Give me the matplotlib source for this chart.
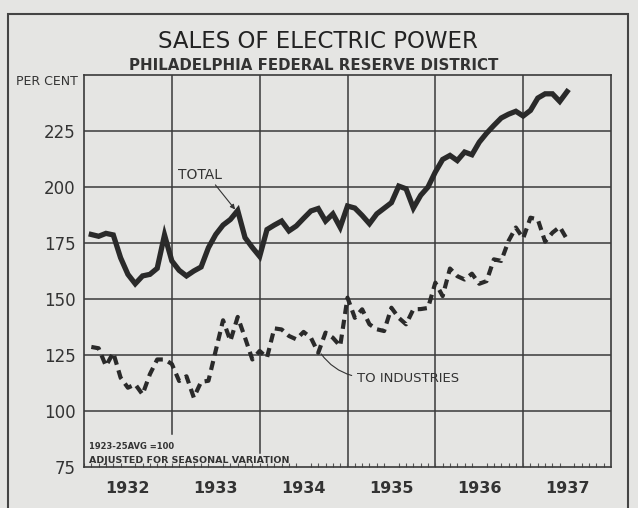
import numpy as np
import matplotlib
matplotlib.use('Agg')
import matplotlib.pyplot as plt
from matplotlib.patches import Rectangle

# Monthly index numbers, Jan 1932 - Jun 1937 (1923-25 avg = 100)
total = [178.8, 178.0, 179.3, 178.6, 168.4, 161.0, 156.8, 160.3, 161.0, 163.7, 178.6, 167.0,
         162.8, 160.3, 162.5, 164.3, 172.9, 178.8, 183.0, 185.5, 189.5, 177.4, 173.0, 169.0,
         181.0, 183.0, 184.8, 180.4, 182.6, 186.0, 189.3, 190.4, 184.8, 188.0, 182.0, 191.5,
         190.6, 187.3, 183.6, 188.0, 190.5, 193.0, 200.4, 199.2, 190.6, 196.3, 200.0, 206.7,
         212.3, 214.1, 211.8, 215.6, 214.4, 220.0, 224.0, 227.5, 230.8, 232.5, 233.8, 231.7,
         234.2, 239.7, 241.6, 241.6, 238.2, 242.6]
industries = [128.6, 128.0, 120.1, 126.0, 114.9, 110.4, 111.9, 107.4, 116.4, 123.0, 123.0, 121.0,
              113.4, 115.5, 106.0, 113.0, 113.5, 127.0, 140.5, 131.3, 142.0, 132.7, 123.0, 126.8,
              123.8, 136.9, 136.4, 133.5, 132.0, 135.3, 132.7, 126.0, 135.0, 132.7, 129.0, 150.6,
              141.6, 145.4, 138.7, 136.5, 135.7, 146.1, 141.6, 138.7, 145.4, 145.5, 146.0, 157.3,
              151.3, 163.6, 160.2, 158.7, 161.3, 156.8, 158.0, 167.7, 167.0, 175.9, 181.9, 177.1,
              186.3, 185.5, 175.6, 179.6, 182.2, 176.6]
years = [1932, 1933, 1934, 1935, 1936, 1937]
y_ticks = [75, 100, 125, 150, 175, 200, 225]

x = 1932 + (np.arange(len(total)) + 1) / 12.0

paper = '#e5e5e3'
ink = '#2a2a2a'

fig = plt.figure(figsize=(6.38, 5.08), dpi=100, facecolor=paper)
ax = fig.add_axes([84/638, 1-467/508, (611-84)/638, (467-75)/508])
ax.set_facecolor(paper)

# outer frame
fig.patches.append(Rectangle((8/638, -0.02), (628-8)/638, 1-14/508+0.02,
                             transform=fig.transFigure, fill=False, lw=1.5, ec='#444444'))

ax.set_xlim(1932, 1938)
ax.set_ylim(75, 250)

# grid
for v in y_ticks[1:]:
    ax.axhline(v, color='#3a3a3a', lw=1.1, zorder=1)
vline_bottoms = {1933: 0.085, 1934: 0.035, 1935: 0, 1936: 0, 1937: 0}
for yr, b in vline_bottoms.items():
    ax.axvline(yr, ymin=b, color='#3a3a3a', lw=1.1, zorder=1)

for s in ax.spines.values():
    s.set_color('#3a3a3a')
    s.set_linewidth(1.2)

ax.plot(x, total, color=ink, lw=3.8, solid_joinstyle='miter', zorder=3)
ax.plot(x, industries, color=ink, lw=3.0, dashes=(2.2, 1.4), zorder=3)

ax.set_yticks(y_ticks)
ax.set_yticklabels([str(v) for v in y_ticks], fontsize=12, color='#333333')
ax.tick_params(axis='y', length=0, pad=6)

ax.set_xticks([yr + 0.5 for yr in years])
ax.set_xticklabels([str(yr) for yr in years], fontsize=11.5, fontweight='bold', color='#333333')
ax.set_xticks(np.arange(1932, 1938, 1/12.0), minor=True)
ax.tick_params(axis='x', which='major', length=0, pad=10)
ax.tick_params(axis='x', which='minor', direction='in', length=3, width=0.8, color='#555555')

fig.text(318/638, 1-42/508, 'SALES OF ELECTRIC POWER', ha='center', va='center',
         fontsize=16.5, color='#222222')
fig.text(314/638, 1-65/508, 'PHILADELPHIA FEDERAL RESERVE DISTRICT', ha='center', va='center',
         fontsize=10.8, fontweight='bold', color='#333333')
fig.text(47/638, 1-82/508, 'PER CENT', ha='center', va='center', fontsize=9,
         color='#333333')

ax.text(1932.06, 83.0, '1923-25AVG =100', fontsize=6, fontweight='bold', color='#333333')
ax.text(1932.06, 76.9, 'ADJUSTED FOR SEASONAL VARIATION', fontsize=6.8, fontweight='bold',
        color='#333333')

ax.annotate('TOTAL', xy=(1933.74, 189.0), xytext=(1933.07, 205.3), fontsize=10, va='center',
            color='#333333',
            arrowprops=dict(arrowstyle='-|>', lw=0.8, color='#333333', mutation_scale=7,
                            shrinkA=0, shrinkB=2, relpos=(0.8, 0)))
ax.annotate('TO INDUSTRIES', xy=(1934.7, 125.5), xytext=(1935.11, 114.7), fontsize=9.5,
            color='#333333', va='center',
            arrowprops=dict(arrowstyle='-', lw=0.8, color='#333333', shrinkA=2, shrinkB=0,
                            relpos=(0, 0.6), connectionstyle='arc3,rad=-0.2'))

fig.savefig('out.png', dpi=100, facecolor=paper)
